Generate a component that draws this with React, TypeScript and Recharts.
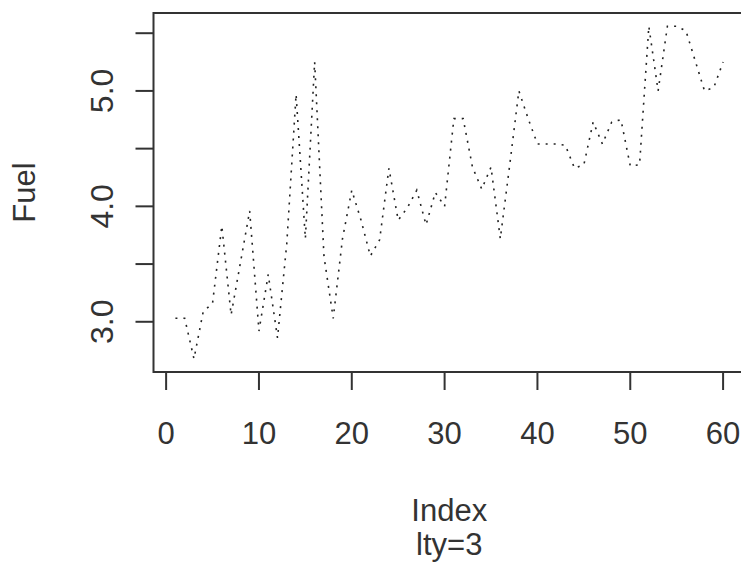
import { Line, LineChart, ReferenceArea, XAxis, YAxis } from "recharts";

// Fuel values, index 1..60
const fuel = [
  3.03, 3.03, 2.68, 3.09, 3.16, 3.83, 3.06, 3.51, 3.96, 2.92,
  3.41, 2.86, 3.68, 4.97, 3.72, 5.25, 3.57, 3.03, 3.72, 4.14,
  3.88, 3.57, 3.71, 4.33, 3.88, 3.99, 4.14, 3.84, 4.12, 4.0,
  4.76, 4.76, 4.34, 4.15, 4.34, 3.72, 4.35, 5.0, 4.76, 4.54,
  4.54, 4.54, 4.53, 4.33, 4.36, 4.73, 4.54, 4.73, 4.75, 4.35,
  4.36, 5.56, 5.0, 5.56, 5.56, 5.52, 5.26, 5.0, 5.03, 5.25,
];

const xTicks = [0, 10, 20, 30, 40, 50, 60];
const yTicks = [3.0, 3.5, 4.0, 4.5, 5.0, 5.5];
const xDomain = [-1.36, 62.36];
const yDomain = [2.565, 5.675];

const data = fuel.map((v, i) => ({ index: i + 1, fuel: v }));

const FONT = "'Liberation Sans', Arial, Helvetica, sans-serif";
const INK = "#333";
const TEXT = "#333";

function YTick(props: any) {
  const { x, y, payload } = props;
  const v = payload.value;
  // R drops the in-between labels, ticks stay
  if (Math.abs(v - Math.round(v)) > 1e-6) return <g />;
  return (
    <text
      x={x}
      y={y}
      transform={`rotate(-90, ${x}, ${y})`}
      textAnchor="middle"
      fontSize={32}
      fontFamily={FONT}
      fill={TEXT}
    >
      {v.toFixed(1)}
    </text>
  );
}

function XTitle(props: any) {
  const { viewBox } = props;
  const cx = viewBox.x + viewBox.width / 2;
  return (
    <g fontFamily={FONT} fontSize={31} fill={TEXT} textAnchor="middle">
      <text x={cx} y={viewBox.y + 149}>Index</text>
      <text x={cx} y={viewBox.y + 183}>lty=3</text>
    </g>
  );
}

function YTitle(props: any) {
  const { viewBox } = props;
  const cy = viewBox.y + viewBox.height / 2;
  const x = 35;
  return (
    <text
      x={x}
      y={cy}
      transform={`rotate(-90, ${x}, ${cy})`}
      textAnchor="middle"
      fontFamily={FONT}
      fontSize={31}
      fill={TEXT}
    >
      Fuel
    </text>
  );
}

export default function App() {
  return (
    <div
      style={{
        position: "absolute",
        left: 0,
        top: 0,
        width: 741,
        height: 562,
        overflow: "hidden",
        background: "#fff",
      }}
    >
      <LineChart
        width={760}
        height={562}
        data={data}
        margin={{ top: 13, right: 15, bottom: 0, left: 0 }}
      >
        <XAxis
          dataKey="index"
          type="number"
          domain={xDomain}
          allowDataOverflow
          ticks={xTicks}
          interval={0}
          height={190}
          axisLine={false}
          tickSize={18}
          tickMargin={32}
          tickLine={{ stroke: INK, strokeWidth: 2 }}
          tick={{ fontSize: 31, fontFamily: FONT, fill: TEXT }}
          label={{ content: XTitle }}
        />
        <YAxis
          type="number"
          domain={yDomain}
          allowDataOverflow
          ticks={yTicks}
          interval={0}
          width={153.5}
          axisLine={false}
          tickSize={18}
          tickMargin={22}
          tickLine={{ stroke: INK, strokeWidth: 2 }}
          tick={<YTick />}
          label={{ content: YTitle }}
        />
        <ReferenceArea
          x1={xDomain[0]}
          x2={xDomain[1]}
          y1={yDomain[0]}
          y2={yDomain[1]}
          fill="none"
          fillOpacity={0}
          stroke={INK}
          strokeWidth={2}
          ifOverflow="visible"
        />
        <Line
          type="linear"
          dataKey="fuel"
          stroke="#222"
          strokeWidth={1.6}
          strokeDasharray="2 6"
          dot={false}
          isAnimationActive={false}
        />
      </LineChart>
    </div>
  );
}
